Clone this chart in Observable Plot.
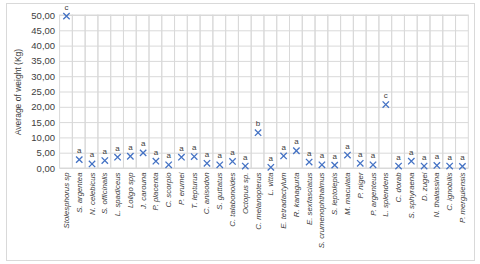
<!DOCTYPE html>
<html>
<head>
<meta charset="utf-8">
<script src="https://cdn.jsdelivr.net/npm/d3@7"></script>
<script src="https://cdn.jsdelivr.net/npm/@observablehq/plot@0.6"></script>
<style>
  html, body { margin: 0; padding: 0; background: white; }
  #chart svg g[aria-label="x-axis tick label"] text { font-style: italic; }
</style>
</head>
<body>
<div id="chart"></div>
<script>
const species = ["Stolesphorus sp", "S. argentea", "N. celebicus", "S. officinalis", "L. spadiceus", "Loligo spp", "J. carouna", "P. placenta", "C. scorpio", "P. erumei", "T. lepturus", "C. anisodon", "S. guttatus", "C. talabonoides", "Octopus sp.", "C. melanopterus", "L. vitta", "E. tetradactylum", "R. kanagurta", "E. sexfasciatus", "S. crumenophthalmus", "S. leptolepis", "M. maculata", "P. niger", "P. argenteus", "L. splendens", "C. dorab", "S. sphyraena", "D. zugei", "N. thalassina", "C. ignobilis", "P. merguiensis"];
const avgWeight = [49.8, 2.9, 1.5, 2.6, 3.7, 4.0, 5.1, 2.4, 1.2, 3.7, 3.9, 1.7, 1.2, 2.3, 0.8, 11.7, 0.4, 4.1, 5.8, 2.1, 1.2, 1.1, 4.4, 1.7, 1.2, 20.9, 0.8, 2.4, 0.8, 1.0, 0.8, 0.7];
const groups = ["c", "a", "a", "a", "a", "a", "a", "a", "a", "a", "a", "a", "a", "a", "a", "b", "a", "a", "a", "a", "a", "a", "a", "a", "a", "c", "a", "a", "a", "a", "a", "a"];
const yTicks = [0, 5, 10, 15, 20, 25, 30, 35, 40, 45, 50];

const data = species.map((s, i) => ({species: s, w: avgWeight[i], g: groups[i]}));
const grid = "#d9d9d9";
const textColor = "#404040";

const chart = Plot.plot({
  width: 480,
  height: 264,
  marginLeft: 59.6,
  marginRight: 11.7,
  marginTop: 15,
  marginBottom: 96,
  style: {fontFamily: "'Liberation Sans', Arial, sans-serif", fontSize: "9px", background: "white", color: textColor},
  x: {type: "band", domain: species, padding: 0, round: false},
  y: {domain: [0, 50]},
  marks: [
    Plot.gridY(yTicks, {stroke: grid, strokeOpacity: 1}),
    Plot.barY(species, {x: d => d, y1: 0, y2: 50, fill: "none", stroke: grid, strokeWidth: 1}),
    Plot.axisY(yTicks, {tickSize: 0, tickPadding: 5, tickFormat: d => d.toFixed(2).replace(".", ","), fontSize: 9.5, fill: textColor, label: null}),
    Plot.text(["Average of weight (Kg)"], {frameAnchor: "left", textAnchor: "middle", dx: -42, rotate: -90, fontSize: 8.5, fill: textColor, text: d => d}),
    Plot.axisX({tickRotate: -90, tickSize: 0, tickPadding: 4, fontSize: 7.8, fill: textColor, label: null}),
    Plot.dot(data, {x: "species", y: "w", symbol: "times", r: 3, stroke: "#4472C4", strokeWidth: 1.3}),
    Plot.text(data, {x: "species", y: "w", text: "g", dy: -9, fontSize: 8, fill: textColor})
  ]
});

d3.select(chart).insert("rect", ":first-child")
  .attr("x", 6.5).attr("y", 3.5).attr("width", 468).attr("height", 257)
  .attr("fill", "white").attr("stroke", grid);

document.getElementById("chart").appendChild(chart);
</script>
</body>
</html>
